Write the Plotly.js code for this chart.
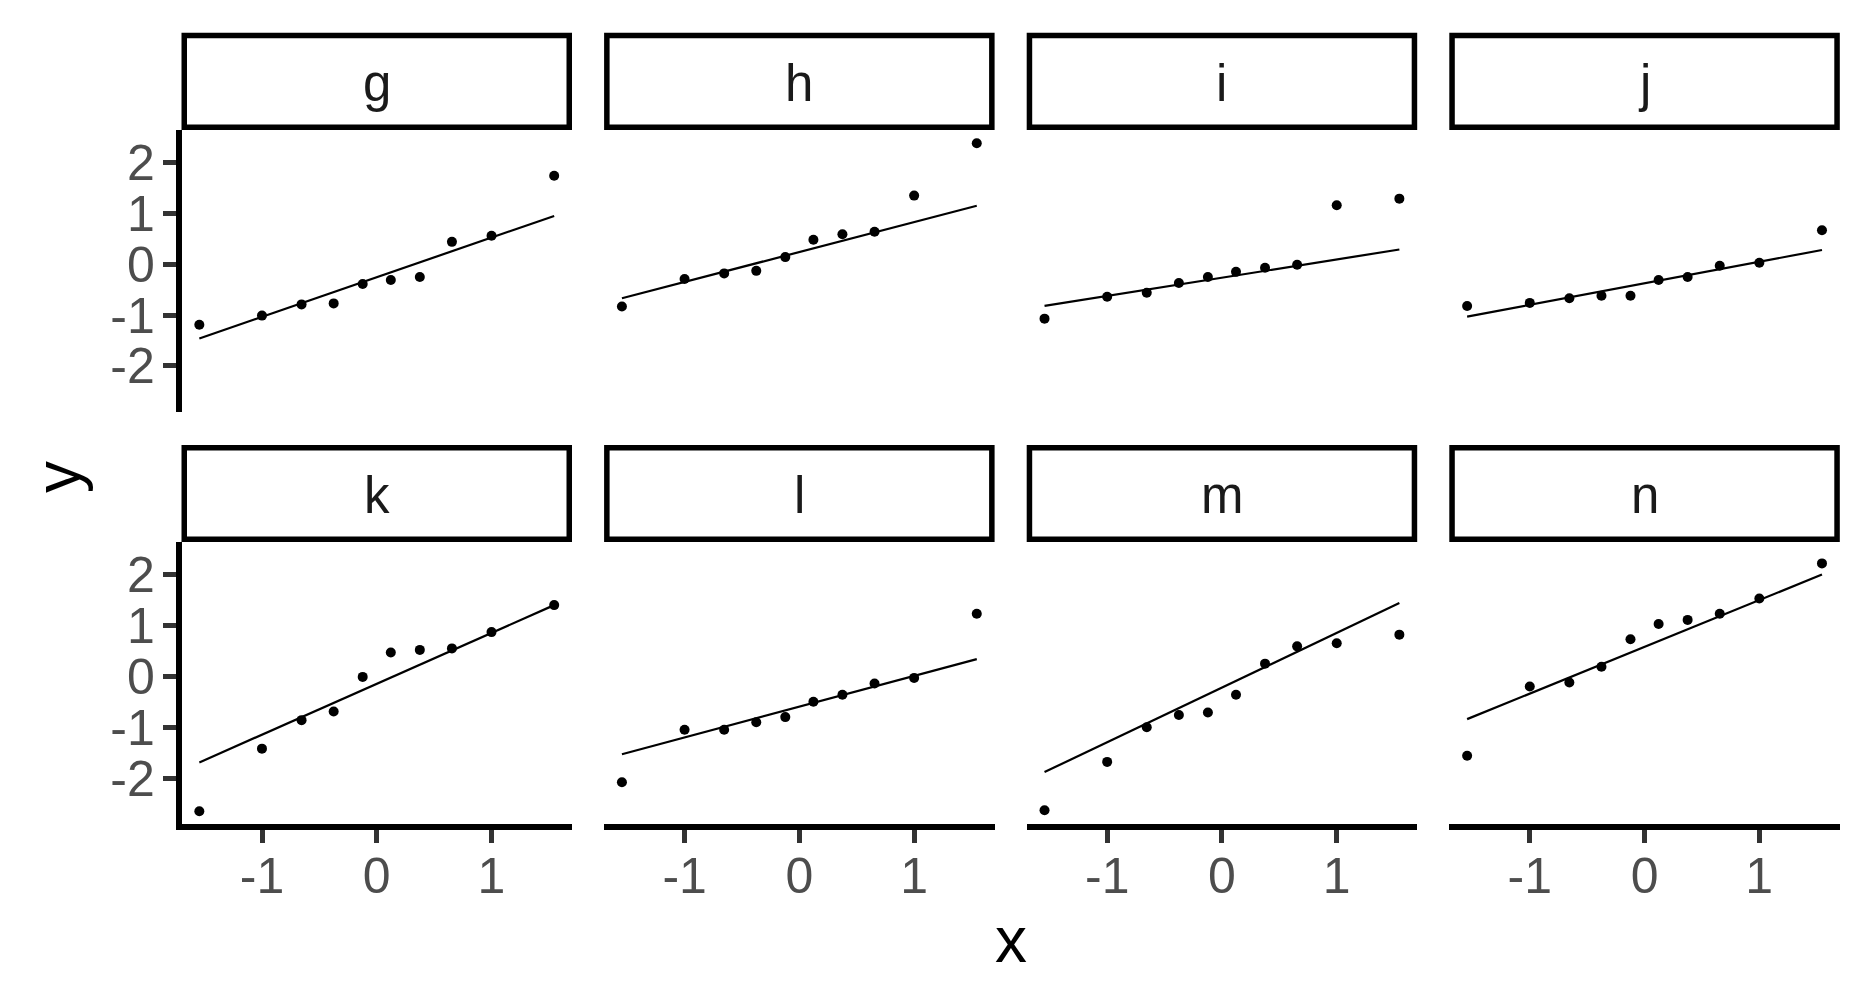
<!DOCTYPE html>
<html>
<head>
<meta charset="utf-8">
<script src="https://cdn.plot.ly/plotly-3.0.1.min.js"></script>
<style>html,body{margin:0;padding:0;background:#fff;}#chart{width:1872px;height:1008px;}</style>
</head>
<body>
<div id="chart"></div>
<script>
// ---- data ----
const panelNames = ['g', 'h', 'i', 'j', 'k', 'l', 'm', 'n'];
const theoretical = [-1.5466, -1.0005, -0.6554, -0.3755, -0.1226, 0.1226, 0.3755, 0.6554, 1.0005, 1.5466];
const sample_g = [-1.19, -1.01, -0.79, -0.77, -0.39, -0.31, -0.25, 0.44, 0.56, 1.74];
const sample_h = [-0.83, -0.29, -0.18, -0.13, 0.14, 0.48, 0.59, 0.64, 1.35, 2.38];
const sample_i = [-1.07, -0.64, -0.56, -0.37, -0.25, -0.15, -0.07, -0.01, 1.16, 1.29];
const sample_j = [-0.82, -0.76, -0.67, -0.62, -0.62, -0.31, -0.25, -0.03, 0.03, 0.67];
const sample_k = [-2.65, -1.42, -0.86, -0.69, -0.01, 0.47, 0.52, 0.55, 0.87, 1.40];
const sample_l = [-2.08, -1.05, -1.05, -0.90, -0.80, -0.50, -0.36, -0.14, -0.03, 1.23];
const sample_m = [-2.63, -1.68, -1.00, -0.76, -0.71, -0.36, 0.25, 0.59, 0.65, 0.82];
const sample_n = [-1.56, -0.20, -0.12, 0.19, 0.73, 1.03, 1.11, 1.23, 1.53, 2.22];
// reference line (qq line) value at the smallest and largest theoretical quantile
const lineStartY = [-1.46, -0.67, -0.82, -1.03, -1.69, -1.53, -1.88, -0.84];
const lineEndY = [0.95, 1.15, 0.29, 0.28, 1.40, 0.34, 1.44, 2.00];
const xTickVals = [-1, 0, 1];
const xTickText = ['-1', '0', '1'];
const yTickVals = [-2, -1, 0, 1, 2];
const yTickText = ['-2', '-1', '0', '1', '2'];
const xTitle = 'x';
const yTitle = 'y';

const samples = [sample_g, sample_h, sample_i, sample_j, sample_k, sample_l, sample_m, sample_n];

// ---- layout geometry (pixels) ----
const W = 1872, H = 1008;
const FONT = 'Liberation Sans, Arial, Helvetica, sans-serif';
const colLeft = [181.5, 604.1, 1026.7, 1449.3];
const colWidth = 390.5;
const rowTop = [130, 542];
const rowBottom = [411.7, 824];
const stripTop = [32.7, 445];
const LW = 5.5;

const traces = [];
const layout = {
  width: W, height: H,
  margin: {l: 0, r: 0, t: 0, b: 0, pad: 0},
  paper_bgcolor: '#ffffff', plot_bgcolor: 'rgba(0,0,0,0)',
  showlegend: false,
  shapes: [], annotations: []
};

panelNames.forEach((name, i) => {
  const row = i < 4 ? 0 : 1;
  const col = i % 4;
  const ax = i === 0 ? '' : String(i + 1);
  const xa = 'x' + ax, ya = 'y' + ax;
  const left = colLeft[col], right = colLeft[col] + colWidth;

  traces.push({
    type: 'scatter', mode: 'markers', xaxis: xa, yaxis: ya,
    x: theoretical, y: samples[i],
    marker: {color: '#000000', size: 10},
    hoverinfo: 'x+y'
  });
  traces.push({
    type: 'scatter', mode: 'lines', xaxis: xa, yaxis: ya,
    x: [theoretical[0], theoretical[theoretical.length - 1]],
    y: [lineStartY[i], lineEndY[i]],
    line: {color: '#000000', width: 2.2},
    hoverinfo: 'skip'
  });

  const xaxis = {
    domain: [left / W, right / W], anchor: ya,
    range: [-1.702, 1.702], showgrid: false, zeroline: false, fixedrange: true
  };
  if (row === 1) {
    Object.assign(xaxis, {
      showline: true, linecolor: '#000000', linewidth: LW,
      ticks: 'outside', ticklen: 13, tickwidth: 5, tickcolor: '#333333',
      tickmode: 'array', tickvals: xTickVals, ticktext: xTickText,
      tickfont: {family: FONT, size: 50, color: '#4D4D4D'},
      ticklabelstandoff: -10
    });
  } else {
    Object.assign(xaxis, {showline: false, ticks: '', showticklabels: false});
  }
  const yaxis = {
    domain: [1 - rowBottom[row] / H, 1 - rowTop[row] / H], anchor: xa,
    range: [-2.9, 2.64], showgrid: false, zeroline: false, fixedrange: true
  };
  if (col === 0) {
    Object.assign(yaxis, {
      showline: true, linecolor: '#000000', linewidth: LW,
      ticks: 'outside', ticklen: 13, tickwidth: 5, tickcolor: '#333333',
      tickmode: 'array', tickvals: yTickVals, ticktext: yTickText,
      tickfont: {family: FONT, size: 50, color: '#4D4D4D'},
      ticklabelstandoff: -2
    });
  } else {
    Object.assign(yaxis, {showline: false, ticks: '', showticklabels: false});
  }
  layout['xaxis' + ax] = xaxis;
  layout['yaxis' + ax] = yaxis;

  // strip box
  const sTop = stripTop[row], sBot = rowTop[row];
  layout.shapes.push({
    type: 'rect', xref: 'paper', yref: 'paper',
    x0: (left + LW / 2) / W, x1: (right - LW / 2) / W,
    y0: 1 - (sBot - LW / 2) / H, y1: 1 - (sTop + LW / 2) / H,
    line: {color: '#000000', width: LW}, fillcolor: '#ffffff'
  });
  layout.annotations.push({
    xref: 'paper', yref: 'paper',
    x: (left + right) / 2 / W, y: 1 - ((sTop + sBot) / 2 + 2) / H,
    xanchor: 'center', yanchor: 'middle', showarrow: false,
    text: name, font: {family: FONT, size: 51, color: '#1A1A1A'}
  });
});

layout.annotations.push({
  xref: 'paper', yref: 'paper', x: 1010.5 / W, y: 1 - 940 / H,
  xanchor: 'center', yanchor: 'middle', showarrow: false,
  text: xTitle, font: {family: FONT, size: 64, color: '#000000'}
});
layout.annotations.push({
  xref: 'paper', yref: 'paper', x: 58 / W, y: 1 - 477 / H,
  xanchor: 'center', yanchor: 'middle', showarrow: false, textangle: -90,
  text: yTitle, font: {family: FONT, size: 64, color: '#000000'}
});

Plotly.newPlot('chart', traces, layout, {displayModeBar: false, responsive: false});
</script>
</body>
</html>
